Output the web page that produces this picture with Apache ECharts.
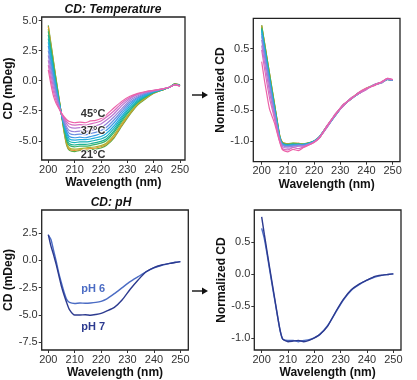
<!DOCTYPE html>
<html><head><meta charset="utf-8">
<script src="https://cdn.jsdelivr.net/npm/echarts@6/dist/echarts.min.js"></script>
<style>html,body{margin:0;padding:0;background:#fff}#c{width:417px;height:380px}</style>
</head><body><div id="c"></div>
<script>
// Wavelengths (nm)
const W = [200,201,202,203,204,205,206,207,208,210,212,214,216,218,220,222,225,228,231,234,237,240,243,246,248,250];
const temps = ['21','23','25','27','29','31','33','35','37','39','41','43','45'];
const tempColors = ['#5aac44','#e0952c','#a8b431','#39b36a','#1fb393','#19b3b8','#22aede','#3c9be6','#6a8fe0','#9683da','#b878d2','#d86cc0','#ec62a8'];

// Raw CD (mDeg) by temperature
const T21 = [4.6,3.1,1.6,0.1,-1.35,-2.8,-4.3,-5.4,-5.8,-5.9,-5.8,-5.85,-5.75,-5.7,-5.6,-5.4,-4.75,-3.75,-2.8,-2.0,-1.5,-1.05,-0.8,-0.55,-0.25,-0.35];
const T23 = [4.5,3.0,1.5,0.0,-1.4,-2.8,-4.2,-5.3,-5.7,-5.8,-5.75,-5.7,-5.65,-5.6,-5.5,-5.3,-4.65,-3.65,-2.75,-1.95,-1.45,-1.05,-0.8,-0.55,-0.28,-0.35];
const T25 = [4.3,2.85,1.4,-0.05,-1.45,-2.8,-4.1,-5.15,-5.6,-5.7,-5.65,-5.6,-5.55,-5.5,-5.4,-5.2,-4.5,-3.5,-2.65,-1.9,-1.4,-1.0,-0.8,-0.55,-0.3,-0.4];
const T27 = [4.1,2.7,1.25,-0.15,-1.5,-2.8,-4.0,-5.0,-5.4,-5.5,-5.45,-5.45,-5.4,-5.3,-5.2,-5.0,-4.3,-3.35,-2.5,-1.8,-1.35,-1.0,-0.78,-0.55,-0.3,-0.4];
const T29 = [3.8,2.45,1.05,-0.3,-1.6,-2.8,-3.9,-4.8,-5.25,-5.35,-5.3,-5.3,-5.25,-5.15,-5.05,-4.85,-4.15,-3.2,-2.4,-1.75,-1.3,-0.98,-0.78,-0.55,-0.3,-0.4];
const T31 = [3.5,2.2,0.85,-0.45,-1.7,-2.8,-3.8,-4.6,-5.05,-5.15,-5.1,-5.1,-5.05,-4.95,-4.85,-4.65,-3.95,-3.05,-2.25,-1.65,-1.25,-0.95,-0.75,-0.55,-0.3,-0.4];
const T33 = [3.2,1.9,0.6,-0.6,-1.75,-2.8,-3.7,-4.4,-4.85,-4.95,-4.9,-4.9,-4.85,-4.75,-4.65,-4.4,-3.75,-2.9,-2.1,-1.55,-1.2,-0.92,-0.75,-0.55,-0.32,-0.4];
const T35 = [2.9,1.6,0.35,-0.8,-1.85,-2.75,-3.6,-4.25,-4.65,-4.75,-4.7,-4.75,-4.65,-4.55,-4.4,-4.15,-3.5,-2.7,-1.95,-1.45,-1.12,-0.9,-0.72,-0.55,-0.32,-0.42];
const T37 = [2.5,1.25,0.05,-1.0,-1.95,-2.75,-3.5,-4.05,-4.4,-4.5,-4.45,-4.5,-4.4,-4.3,-4.15,-3.9,-3.25,-2.5,-1.8,-1.35,-1.05,-0.88,-0.72,-0.55,-0.32,-0.42];
const T39 = [2.1,0.9,-0.25,-1.2,-2.05,-2.75,-3.35,-3.85,-4.15,-4.25,-4.2,-4.25,-4.15,-4.05,-3.9,-3.6,-3.0,-2.3,-1.65,-1.25,-1.0,-0.85,-0.7,-0.55,-0.33,-0.43];
const T41 = [1.7,0.5,-0.6,-1.45,-2.15,-2.75,-3.2,-3.6,-3.85,-3.95,-3.9,-3.95,-3.85,-3.75,-3.6,-3.3,-2.75,-2.05,-1.5,-1.15,-0.95,-0.82,-0.7,-0.55,-0.33,-0.43];
const T43 = [1.3,0.1,-0.95,-1.7,-2.25,-2.7,-3.1,-3.4,-3.6,-3.7,-3.65,-3.7,-3.6,-3.5,-3.35,-3.05,-2.5,-1.85,-1.4,-1.1,-0.92,-0.8,-0.7,-0.55,-0.34,-0.44];
const T45 = [0.9,-0.3,-1.3,-1.9,-2.3,-2.7,-3.0,-3.25,-3.4,-3.5,-3.45,-3.5,-3.35,-3.3,-3.15,-2.85,-2.25,-1.7,-1.3,-1.05,-0.9,-0.8,-0.7,-0.55,-0.35,-0.45];

// Normalized CD by temperature
const N21 = [0.88,0.62,0.36,0.1,-0.16,-0.42,-0.68,-0.93,-1.02,-1.04,-1.03,-1.04,-1.04,-1.03,-1.0,-0.93,-0.76,-0.58,-0.42,-0.31,-0.22,-0.15,-0.09,-0.04,0.0,-0.01];
const N23 = [0.87,0.61,0.35,0.09,-0.17,-0.43,-0.69,-0.93,-1.02,-1.04,-1.04,-1.03,-1.05,-1.03,-1.0,-0.93,-0.75,-0.58,-0.43,-0.31,-0.22,-0.15,-0.09,-0.04,0.0,-0.01];
const N25 = [0.86,0.6,0.34,0.08,-0.18,-0.44,-0.7,-0.94,-1.03,-1.05,-1.03,-1.04,-1.04,-1.02,-1.0,-0.94,-0.76,-0.57,-0.42,-0.32,-0.22,-0.14,-0.08,-0.04,0.01,-0.01];
const N27 = [0.84,0.58,0.32,0.06,-0.2,-0.45,-0.71,-0.95,-1.03,-1.05,-1.04,-1.05,-1.05,-1.03,-0.99,-0.93,-0.75,-0.58,-0.43,-0.31,-0.23,-0.15,-0.09,-0.04,0.0,-0.01];
const N29 = [0.82,0.56,0.3,0.04,-0.22,-0.47,-0.72,-0.95,-1.04,-1.06,-1.05,-1.04,-1.06,-1.03,-1.0,-0.94,-0.76,-0.59,-0.42,-0.32,-0.22,-0.15,-0.09,-0.05,0.0,-0.01];
const N31 = [0.8,0.54,0.28,0.02,-0.24,-0.49,-0.73,-0.96,-1.04,-1.06,-1.05,-1.06,-1.05,-1.03,-1.0,-0.93,-0.75,-0.58,-0.43,-0.31,-0.23,-0.15,-0.09,-0.04,0.01,-0.01];
const N33 = [0.78,0.52,0.26,0.0,-0.26,-0.5,-0.74,-0.96,-1.05,-1.07,-1.06,-1.05,-1.06,-1.04,-1.0,-0.94,-0.76,-0.59,-0.42,-0.32,-0.22,-0.15,-0.08,-0.04,0.0,-0.01];
const N35 = [0.74,0.48,0.23,-0.03,-0.28,-0.52,-0.75,-0.97,-1.05,-1.07,-1.06,-1.07,-1.05,-1.04,-1.0,-0.93,-0.75,-0.58,-0.43,-0.31,-0.23,-0.15,-0.09,-0.04,0.0,-0.01];
const N37 = [0.7,0.44,0.19,-0.06,-0.31,-0.55,-0.77,-0.98,-1.06,-1.08,-1.07,-1.06,-1.07,-1.04,-1.01,-0.94,-0.77,-0.58,-0.42,-0.32,-0.22,-0.15,-0.09,-0.04,0.01,-0.01];
const N39 = [0.64,0.38,0.13,-0.12,-0.36,-0.58,-0.8,-0.99,-1.07,-1.09,-1.08,-1.07,-1.07,-1.05,-1.01,-0.93,-0.76,-0.59,-0.43,-0.31,-0.23,-0.16,-0.09,-0.04,0.0,-0.01];
const N41 = [0.55,0.3,0.05,-0.2,-0.42,-0.62,-0.83,-1.0,-1.09,-1.11,-1.1,-1.08,-1.08,-1.05,-1.01,-0.95,-0.75,-0.57,-0.41,-0.32,-0.22,-0.15,-0.09,-0.05,0.01,0.0];
const N43 = [0.48,0.2,-0.06,-0.3,-0.48,-0.66,-0.86,-1.02,-1.12,-1.14,-1.1,-1.12,-1.09,-1.06,-1.01,-0.94,-0.77,-0.56,-0.44,-0.3,-0.23,-0.16,-0.08,-0.04,0.02,0.0];
const N45 = [0.29,0.0,-0.25,-0.48,-0.6,-0.72,-0.88,-1.03,-1.14,-1.17,-1.13,-1.15,-1.1,-1.06,-1.02,-0.95,-0.74,-0.58,-0.41,-0.32,-0.21,-0.14,-0.1,-0.03,0.02,0.0];

// pH raw and normalized
const pH6 = [2.3,1.9,0.9,-0.1,-1.2,-2.1,-2.95,-3.6,-3.85,-3.95,-3.9,-3.92,-3.9,-3.85,-3.75,-3.55,-3.05,-2.5,-1.95,-1.5,-1.05,-0.68,-0.45,-0.28,-0.18,-0.12];
const pH7 = [2.35,1.3,0.5,-0.4,-1.4,-2.4,-3.2,-3.9,-4.5,-5.0,-5.0,-4.98,-5.02,-4.95,-4.85,-4.65,-4.3,-3.6,-2.65,-1.8,-1.05,-0.66,-0.43,-0.28,-0.2,-0.12];
const pH6n = [0.71,0.55,0.32,0.07,-0.18,-0.42,-0.66,-0.89,-1.02,-1.04,-1.04,-1.06,-1.04,-1.03,-1.0,-0.95,-0.81,-0.61,-0.41,-0.26,-0.17,-0.1,-0.05,-0.02,-0.01,0.0];
const pH7n = [0.89,0.62,0.36,0.1,-0.15,-0.4,-0.65,-0.88,-1.02,-1.06,-1.05,-1.04,-1.06,-1.04,-1.0,-0.95,-0.82,-0.6,-0.4,-0.25,-0.16,-0.1,-0.04,-0.02,-0.01,0.0];

const xTicks = [200,210,220,230,240,250];
const yTicksRaw1 = [-5,-2.5,0,2.5,5];
const yTicksRaw2 = [-7.5,-5,-2.5,0,2.5];
const yTicksNorm = [-1,-0.5,0,0.5];

const rawT = [T21,T23,T25,T27,T29,T31,T33,T35,T37,T39,T41,T43,T45];
const normT = [N21,N23,N25,N27,N29,N31,N33,N35,N37,N39,N41,N43,N45];

const pair = arr => W.map((w,i)=>[w,arr[i]]);
const FONT = 'Liberation Sans, Arial, sans-serif';

function xAx(gi,min,max){
  return {type:'value',gridIndex:gi,min:min,max:max,name:'Wavelength (nm)',nameLocation:'middle',nameGap:17,
    nameTextStyle:{fontWeight:'bold',fontSize:12,color:'#111',fontFamily:FONT},
    axisLine:{show:false,onZero:false},splitLine:{show:false},
    axisTick:{show:true,length:3,lineStyle:{color:'#333',width:1},customValues:xTicks},
    axisLabel:{customValues:xTicks,fontSize:11,color:'#333',margin:4,fontFamily:FONT}};
}
function yAx(gi,min,max,ticks,name){
  return {type:'value',gridIndex:gi,min:min,max:max,name:name,nameLocation:'middle',nameGap:21,
    nameTextStyle:{fontWeight:'bold',fontSize:12,color:'#111',fontFamily:FONT},
    axisLine:{show:false,onZero:false},splitLine:{show:false},
    axisTick:{show:true,length:3,lineStyle:{color:'#333',width:1},customValues:ticks},
    axisLabel:{customValues:ticks,fontSize:11,color:'#333',margin:4,fontFamily:FONT,formatter:v=>Number(v).toFixed(1)}};
}
const gridStyle = {show:true,borderColor:'#222',borderWidth:1.3,backgroundColor:'#fff'};

const series = [];
rawT.forEach((arr,i)=>{
  series.push({type:'line',xAxisIndex:0,yAxisIndex:0,data:pair(arr),showSymbol:false,smooth:0.2,
    lineStyle:{width:1.2,color:tempColors[i]},itemStyle:{color:tempColors[i]},silent:true,name:temps[i]+'°C'});
});
normT.forEach((arr,i)=>{
  series.push({type:'line',xAxisIndex:1,yAxisIndex:1,data:pair(arr),showSymbol:false,smooth:0.2,
    lineStyle:{width:1.2,color:tempColors[i]},itemStyle:{color:tempColors[i]},silent:true});
});
const labStyle = {show:true,position:'inside',fontWeight:'bold',fontSize:11,fontFamily:FONT,formatter:'{b}'};
series[12].markPoint = {symbol:'circle',symbolSize:1,itemStyle:{color:'rgba(0,0,0,0)'},silent:true,
  label:Object.assign({},labStyle,{color:'#333',textBorderColor:'#fff',textBorderWidth:1.5}),
  data:[{name:'45°C',coord:[217,-2.8]},{name:'37°C',coord:[217,-4.15]},{name:'21°C',coord:[217,-6.2]}]};

series.push({type:'line',xAxisIndex:2,yAxisIndex:2,data:pair(pH6),showSymbol:false,smooth:0.2,
  lineStyle:{width:1.4,color:'#4b6cc4'},silent:true,
  markPoint:{symbol:'circle',symbolSize:1,itemStyle:{color:'rgba(0,0,0,0)'},label:Object.assign({},labStyle,{color:'#4b6cc4'}),
    data:[{name:'pH 6',coord:[217,-2.6]}]}});
series.push({type:'line',xAxisIndex:2,yAxisIndex:2,data:pair(pH7),showSymbol:false,smooth:0.2,
  lineStyle:{width:1.4,color:'#2c3a8f'},silent:true,
  markPoint:{symbol:'circle',symbolSize:1,itemStyle:{color:'rgba(0,0,0,0)'},label:Object.assign({},labStyle,{color:'#2c3a8f'}),
    data:[{name:'pH 7',coord:[217,-6.06]}]}});
series.push({type:'line',xAxisIndex:3,yAxisIndex:3,data:pair(pH6n),showSymbol:false,smooth:0.2,
  lineStyle:{width:1.4,color:'#4b6cc4'},silent:true});
series.push({type:'line',xAxisIndex:3,yAxisIndex:3,data:pair(pH7n),showSymbol:false,smooth:0.2,
  lineStyle:{width:1.4,color:'#2c3a8f'},silent:true});

function arrow(x,y){
  return {type:'group',children:[
    {type:'line',shape:{x1:x,y1:y,x2:x+12,y2:y},style:{stroke:'#111',lineWidth:1.4}},
    {type:'polygon',shape:{points:[[x+10,y-3.5],[x+16,y],[x+10,y+3.5]]},style:{fill:'#111'}}
  ]};
}

const chart = echarts.init(document.getElementById('c'),null,{renderer:'canvas'});
chart.setOption({
  animation:false,
  backgroundColor:'#fff',
  grid:[
    Object.assign({left:41.7,top:17,width:143.3,height:143},gridStyle),
    Object.assign({left:253.3,top:18.3,width:146.7,height:143.4},gridStyle),
    Object.assign({left:41.7,top:210,width:146.6,height:142.3},gridStyle),
    Object.assign({left:254.3,top:210,width:146.7,height:142.3},gridStyle)
  ],
  xAxis:[xAx(0,197.5,251.9),xAx(1,196.8,252.8),xAx(2,197.5,253),xAx(3,197.2,252.9)],
  yAxis:[yAx(0,-6.6,5.3,yTicksRaw1,'CD (mDeg)'),yAx(1,-1.33,0.99,yTicksNorm,'Normalized CD'),
         yAx(2,-8.2,4.6,yTicksRaw2,'CD (mDeg)'),yAx(3,-1.19,0.997,yTicksNorm,'Normalized CD')],
  series:series,
  graphic:[
    {type:'text',x:113,y:10,style:{text:'CD: Temperature',font:'italic bold 12px '+FONT,fill:'#111',align:'center',verticalAlign:'middle'}},
    {type:'text',x:111,y:203,style:{text:'CD: pH',font:'italic bold 12px '+FONT,fill:'#111',align:'center',verticalAlign:'middle'}},
    arrow(192,95),
    arrow(192,291)
  ]
});
</script></body></html>
